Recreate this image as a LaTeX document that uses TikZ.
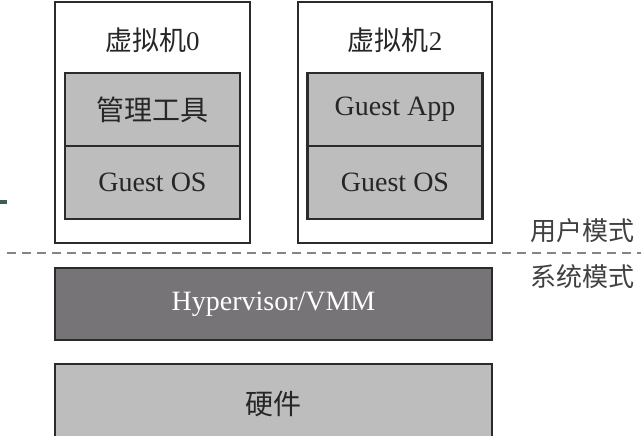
\documentclass[tikz,border=0pt]{standalone}
\usepackage{fontspec}
\setmainfont{Liberation Serif}
\newfontfamily\cjk{Noto Sans CJK SC}
\usepackage{xcolor}
\usepackage{tikz}
\usetikzlibrary{positioning}

\definecolor{boxline}{HTML}{2B2B2B}
\definecolor{layergray}{HTML}{BDBDBD}
\definecolor{vmmgray}{HTML}{767476}
\definecolor{dashgray}{HTML}{858585}
\definecolor{markgreen}{HTML}{3F5E50}

\begin{document}
\begin{tikzpicture}[x=1pt,y=-1pt,
    vmbox/.style={draw=boxline,line width=2.2pt,fill=white,minimum width=195pt,
        minimum height=241pt,inner sep=0pt,outer sep=0pt},
    layer/.style={draw=boxline,line width=2.2pt,fill=layergray,minimum width=175pt,
        minimum height=73pt,inner sep=0pt,outer sep=0pt,text=black!85,
        font=\fontsize{28}{32}\selectfont},
    base/.style={layer,minimum width=437pt,minimum height=72pt},
    vmtitle/.style={text=black!85,font=\fontsize{27}{32}\selectfont},
    modetext/.style={text=black!75,font=\fontsize{26}{30}\selectfont\cjk}]

    \useasboundingbox (0,0) rectangle (641,436);
    \clip (0,0) rectangle (641,436);

    % virtual machines
    \node[vmbox] (vm0) at (152.5,122.5) {};
    \node[vmtitle] (title0) at (152.5,40) {{\cjk 虚拟机}0};
    \node[layer] (tool0) at (152.5,109.5) {{\cjk 管理工具}};
    \node[layer,below=0pt of tool0] (os0) {Guest OS};

    \node[vmbox,minimum width=194pt] (vm2) at (395,122.5) {};
    \node[vmtitle] (title2) at (395,40) {{\cjk 虚拟机}2};
    \node[layer] (app2) at (395,109.5) {Guest App};
    \node[layer,below=0pt of app2] (os2) {Guest OS};

    % mode border
    \coordinate (dleft) at (7,253);
    \coordinate (dright) at (641,253);
    \draw[dashgray,line width=2pt,dash pattern=on 9pt off 6pt] (dleft) -- (dright);
    \node[modetext] (usermode) at (582,231) {用户模式};
    \node[modetext] (sysmode) at (582,277) {系统模式};

    % lower layers
    \node[base,fill=vmmgray,text=white] (vmm) at (273.5,304) {Hypervisor/VMM};
    \node[base,minimum height=80pt] (hw) at (273.5,404) {{\cjk 硬件}};

    \fill[markgreen] (0,200) rectangle (7,204);
\end{tikzpicture}
\end{document}
